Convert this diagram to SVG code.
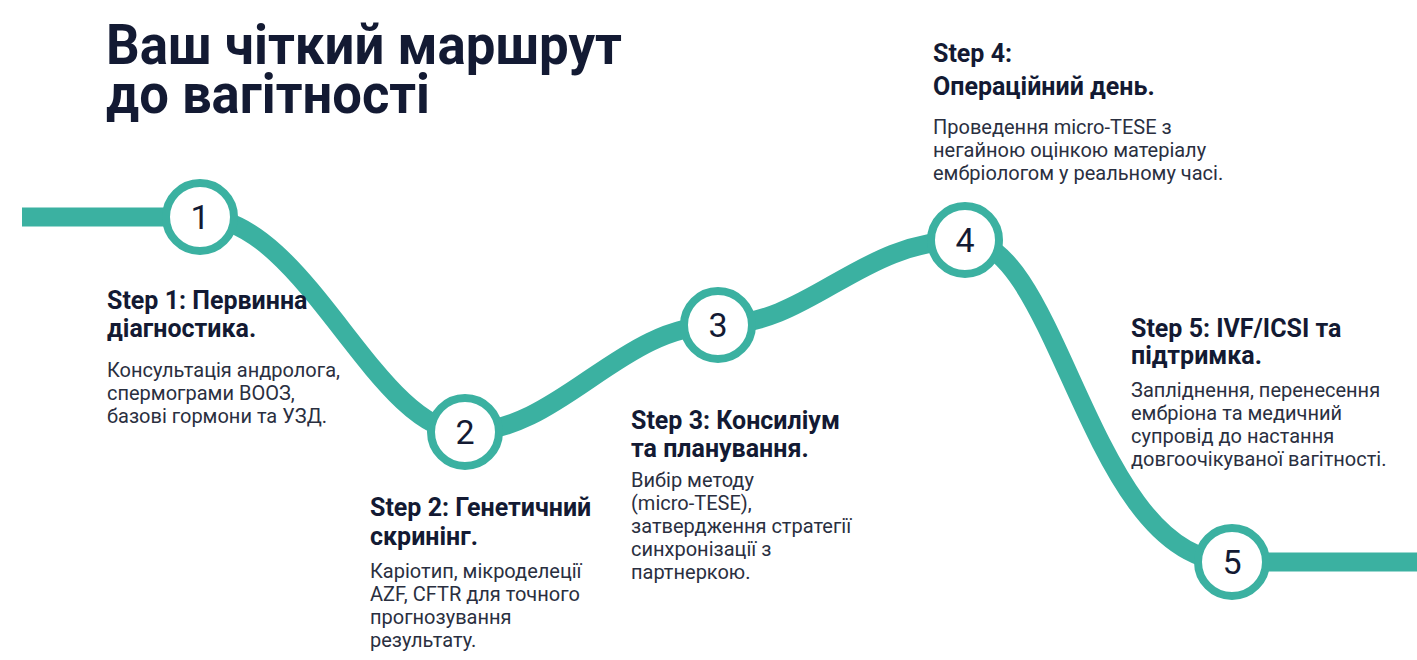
<svg xmlns="http://www.w3.org/2000/svg" width="1417" height="660" viewBox="0 0 1417 660">
<style>
.title{font-family:Roboto,"Liberation Sans",sans-serif;font-weight:700;font-size:56px;fill:#131a33}
.h{font-family:Roboto,"Liberation Sans",sans-serif;font-weight:700;font-size:25px;fill:#131a33}
.b{font-family:Roboto,"Liberation Sans",sans-serif;font-weight:400;font-size:20px;fill:#2a2f3f}
.num{font-family:Roboto,"Liberation Sans",sans-serif;font-weight:400;font-size:34px;fill:#131a33;text-anchor:middle}
.ring{fill:#ffffff;stroke:#3bb1a1;stroke-width:8}
.track{fill:none;stroke:#3bb1a1;stroke-width:19}
</style>
<rect width="1417" height="660" fill="#ffffff"/>
<g id="title">
<text class="title" x="106" y="64" textLength="516" lengthAdjust="spacingAndGlyphs">Ваш чіткий маршрут</text>
<text class="title" x="106" y="113" textLength="324" lengthAdjust="spacingAndGlyphs">до вагітності</text>
</g>
<g id="connectors">
<path class="track" d="M22 217 L200 217 C305 217 375 432 465 432 C560 432 620 325 718 325 C810 325 860 240 965 240 C1060 240 1090 562 1232 562 L1417 562"/>
</g>
<g id="node1">
<circle class="ring" cx="200" cy="217" r="34"/>
<text class="num" x="200" y="229">1</text>
<text class="h" x="107" y="309">Step 1: Первинна</text>
<text class="h" x="107" y="337">діагностика.</text>
<text class="b" x="107" y="377">Консультація андролога,</text>
<text class="b" x="107" y="400">спермограми ВООЗ,</text>
<text class="b" x="107" y="423">базові гормони та УЗД.</text>
</g>
<g id="node2">
<circle class="ring" cx="465" cy="432" r="34"/>
<text class="num" x="465" y="444">2</text>
<text class="h" x="370" y="516">Step 2: Генетичний</text>
<text class="h" x="370" y="545">скринінг.</text>
<text class="b" x="370" y="578">Каріотип, мікроделеції</text>
<text class="b" x="370" y="601">AZF, CFTR для точного</text>
<text class="b" x="370" y="624">прогнозування</text>
<text class="b" x="370" y="647">результату.</text>
</g>
<g id="node3">
<circle class="ring" cx="718" cy="325" r="34"/>
<text class="num" x="718" y="337">3</text>
<text class="h" x="631" y="429">Step 3: Консиліум</text>
<text class="h" x="631" y="457">та планування.</text>
<text class="b" x="631" y="487">Вибір методу</text>
<text class="b" x="631" y="510">(micro-TESE),</text>
<text class="b" x="631" y="533">затвердження стратегії</text>
<text class="b" x="631" y="556">синхронізації з</text>
<text class="b" x="631" y="579">партнеркою.</text>
</g>
<g id="node4">
<circle class="ring" cx="965" cy="240" r="34"/>
<text class="num" x="965" y="252">4</text>
<text class="h" x="933" y="62">Step 4:</text>
<text class="h" x="933" y="95">Операційний день.</text>
<text class="b" x="933" y="134">Проведення micro-TESE з</text>
<text class="b" x="933" y="157">негайною оцінкою матеріалу</text>
<text class="b" x="933" y="180">ембріологом у реальному часі.</text>
</g>
<g id="node5">
<circle class="ring" cx="1232" cy="562" r="34"/>
<text class="num" x="1232" y="574">5</text>
<text class="h" x="1131" y="337">Step 5: IVF/ICSI та</text>
<text class="h" x="1131" y="364">підтримка.</text>
<text class="b" x="1131" y="397">Запліднення, перенесення</text>
<text class="b" x="1131" y="420">ембріона та медичний</text>
<text class="b" x="1131" y="443">супровід до настання</text>
<text class="b" x="1131" y="466">довгоочікуваної вагітності.</text>
</g>
</svg>
